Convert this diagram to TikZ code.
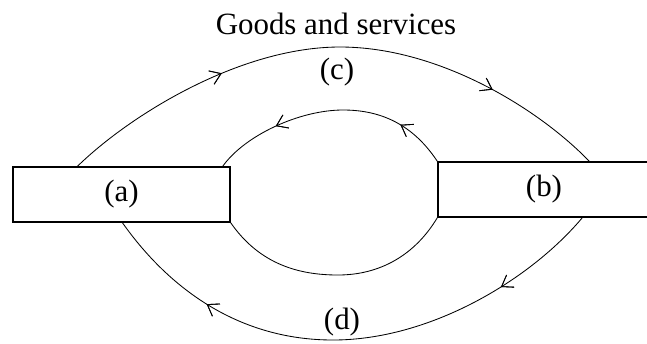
\documentclass[tikz,border=0pt]{standalone}
\usepackage{fontspec}
\setmainfont{Liberation Serif}
\usepackage{tikz}
\usetikzlibrary{arrows.meta,calc,decorations.markings}

\begin{document}
\begin{tikzpicture}[
    x=0.25mm, y=-0.25mm,
    font=\fontsize{22}{26}\selectfont,
    box/.style={draw, line width=0.9pt, minimum height=13.75mm, inner sep=0pt},
    flow/.style={line width=0.6pt},
    tip/.style={postaction={decorate}, decoration={markings,
        mark=at position #1 with {\arrow{Straight Barb[length=2.6mm, width=3.6mm, line width=0.6pt]}}}}
]
\useasboundingbox (0,0) rectangle (647,343);
\clip (0,0) rectangle (647,343);

\node[box, minimum width=54.25mm] (a) at (121.5,194.5) {(a)};
\node[box, minimum width=53mm] (b) at (544,189.5) {(b)};

\node (title) at (336,24) {Goods and services};
\node (c) at (337,72) {(c)};
\node (d) at (342,322) {(d)};

% outer top: a -> b
\draw[flow, tip=0.3, tip=0.79] ($(a.north west)+(65,0)$)
    .. controls (130,115) and (240,47) .. (340,47)
    .. controls (440,47) and (540,110) .. ($(b.north west)+(152,0)$);
% inner top: b -> a
\draw[flow, tip=0.21, tip=0.73] (b.north west)
    .. controls (410,120) and (375,110) .. (343,110)
    .. controls (300,110) and (245,135) .. ($(a.north east)+(-8,0)$);
% inner bottom
\draw[flow] (a.south east)
    .. controls (260,265) and (300,275) .. (338,275)
    .. controls (380,275) and (415,255) .. (b.south west);
% outer bottom: b -> a
\draw[flow, tip=0.2, tip=0.78] ($(b.south west)+(145,0)$)
    .. controls (530,280) and (430,340) .. (333,340)
    .. controls (240,340) and (170,290) .. ($(a.south west)+(110,0)$);
\end{tikzpicture}
\end{document}
